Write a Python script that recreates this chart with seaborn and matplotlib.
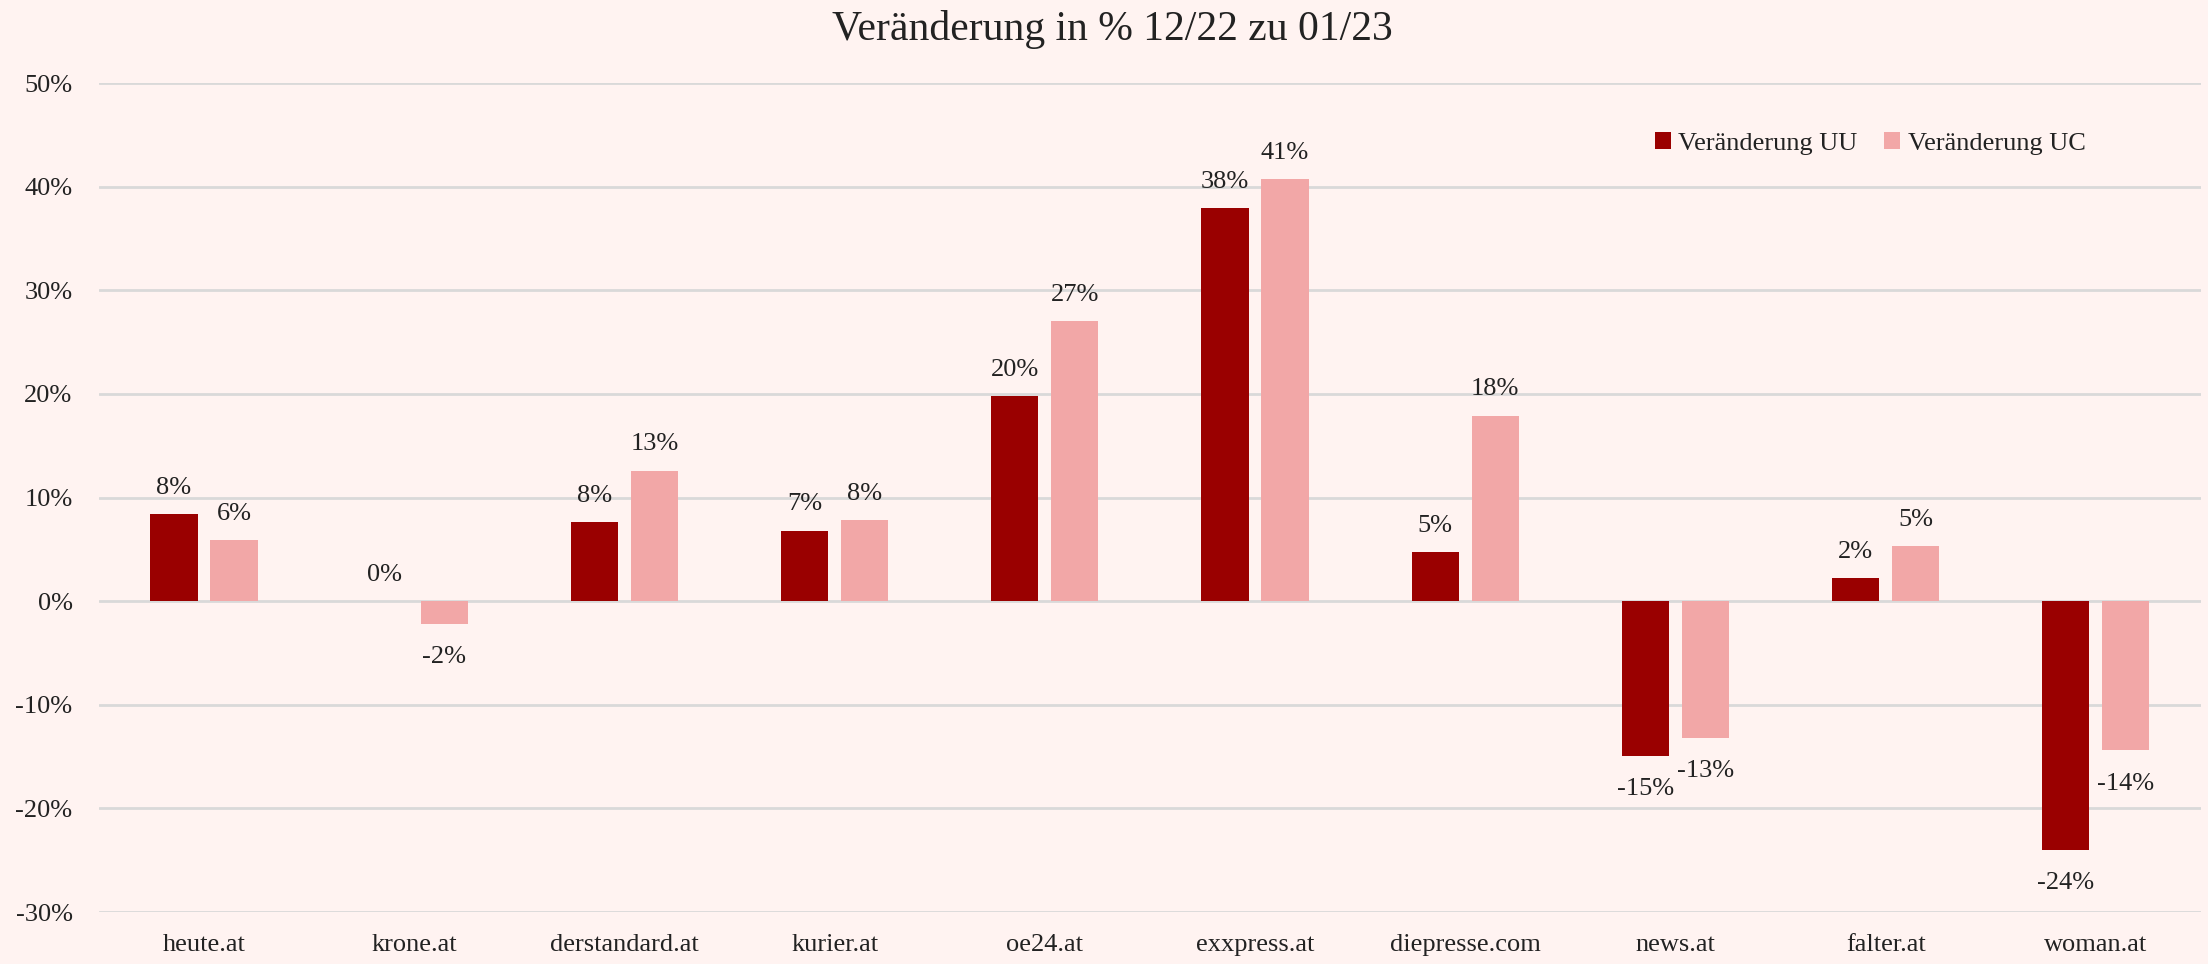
import matplotlib
matplotlib.use("Agg")
import matplotlib.pyplot as plt
import seaborn as sns
import pandas as pd
from matplotlib.ticker import FixedLocator, FuncFormatter

sites = ["heute.at", "krone.at", "derstandard.at", "kurier.at", "oe24.at",
         "exxpress.at", "diepresse.com", "news.at", "falter.at", "woman.at"]
change_uu = [8.4, 0.0, 7.6, 6.8, 19.8, 37.9, 4.7, -14.9, 2.2, -24.0]
change_uc = [5.9, -2.2, 12.6, 7.8, 27.0, 40.7, 17.9, -13.2, 5.3, -14.4]
series_names = ["Veränderung UU", "Veränderung UC"]
y_ticks = [-30, -20, -10, 0, 10, 20, 30, 40, 50]
title = "Veränderung in % 12/22 zu 01/23"

BG = "#FFF3F1"
COL_UU = "#9A0000"
COL_UC = "#F2A7A7"

df = pd.DataFrame({
    "site": sites * 2,
    "value": change_uu + change_uc,
    "series": [series_names[0]] * len(sites) + [series_names[1]] * len(sites),
})

sns.set_theme(style="white")
plt.rcParams["font.family"] = ["Liberation Serif", "DejaVu Serif"]
plt.rcParams["text.color"] = "#222222"

fig = plt.figure(figsize=(22.08, 9.64), dpi=100, facecolor=BG)
ax = fig.add_axes([0.0448, 0.0539, 0.952, 0.860])
ax.set_facecolor(BG)

sns.barplot(data=df, x="site", y="value", hue="series", order=sites,
            hue_order=series_names, palette=[COL_UU, COL_UC], saturation=1,
            width=0.571, gap=0.215, ax=ax, zorder=3, linewidth=0)

ax.set_ylim(-30, 50)
ax.set_xlim(-0.5, len(sites) - 0.5)
ax.yaxis.set_major_locator(FixedLocator(y_ticks))
ax.yaxis.set_major_formatter(FuncFormatter(lambda v, p: f"{int(v)}%".replace("\u2212", "-")))
ax.grid(axis="y", color="#D9D9D9", linewidth=2, zorder=0)
ax.set_axisbelow(True)
for s in ax.spines.values():
    s.set_visible(False)
ax.tick_params(axis="y", length=0, pad=19, labelsize=19, labelcolor="#222222")
ax.tick_params(axis="x", length=0, pad=16, labelsize=19, labelcolor="#222222")
ax.set_xlabel("")
ax.set_ylabel("")

for cont, vals in zip(ax.containers, [change_uu, change_uc]):
    pos_labels = [f"{round(v)}%" if v >= 0 else "" for v in vals]
    neg_labels = [f"{round(v)}%" if v < 0 else "" for v in vals]
    ax.bar_label(cont, labels=pos_labels, padding=11, fontsize=19, color="#222222")
    ax.bar_label(cont, labels=neg_labels, padding=16, fontsize=19, color="#222222")

handles, labels = ax.get_legend_handles_labels()
ax.legend(handles, labels, loc="center", bbox_to_anchor=(0.847, 0.851),
          bbox_transform=fig.transFigure, ncol=2, frameon=False, fontsize=19,
          handlelength=0.6, handleheight=0.6, handletextpad=0.3, columnspacing=1.0)

fig.text(0.504, 0.969, title, ha="center", va="center", fontsize=30, color="#222222")

fig.savefig("out.png", dpi=100, facecolor=BG)
